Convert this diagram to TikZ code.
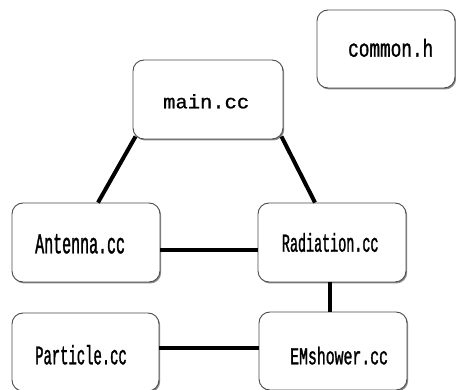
\documentclass[tikz,border=0pt]{standalone}
\usepackage{fontspec}
\usetikzlibrary{shadows}
\newfontfamily\fnarrow[FakeStretch=0.52,FakeBold=1.2]{Liberation Mono}
\newfontfamily\fmid[FakeStretch=0.61,FakeBold=1.2]{Liberation Mono}
\newfontfamily\fwide[FakeStretch=1.05,FakeBold=1.0]{Liberation Mono}
\newfontfamily\fcommon[FakeStretch=0.72,FakeBold=1.2]{Liberation Mono}
\begin{document}
\begin{tikzpicture}[x=1pt,y=1pt,
  box/.style={draw=black!70, line width=0.9pt, fill=white, rounded corners=11pt,
    inner sep=0pt, drop shadow={shadow xshift=1.2pt, shadow yshift=-1.5pt, fill=black!45, opacity=1}},
  lbl/.style={inner sep=0pt, anchor=base west, text=black},
  link/.style={line width=4pt, black}]
\useasboundingbox (0,0) rectangle (456,390);
\clip (0,0) rectangle (456,390);
\fill[white] (0,0) rectangle (456,390);
% boxes
\node[box, minimum width=138pt, minimum height=78pt] (common) at (386,341) {};
\node[box, minimum width=150pt, minimum height=79pt] (main) at (208,290.5) {};
\node[box, minimum width=148pt, minimum height=79pt] (antenna) at (86,147.5) {};
\node[box, minimum width=148pt, minimum height=79pt] (radiation) at (332,147.5) {};
\node[box, minimum width=147pt, minimum height=78pt] (particle) at (85.5,38) {};
\node[box, minimum width=148pt, minimum height=78pt] (emshower) at (333,39) {};
% labels
\node[lbl, font=\fcommon\fontsize{24.6}{26}\selectfont] (commonT) at (348,333.3) {common.h};
\node[lbl, font=\fwide\fontsize{19.5}{22}\selectfont] (mainT) at (163,281.7) {main.cc};
\node[lbl, font=\fnarrow\fontsize{28.8}{30}\selectfont] (antennaT) at (35,136.7) {Antenna.cc};
\node[lbl, font=\fnarrow\fontsize{25.8}{28}\selectfont] (radiationT) at (281.7,138.3) {Radiation.cc};
\node[lbl, font=\fnarrow\fontsize{26.7}{28}\selectfont] (particleT) at (35,25.7) {Particle.cc};
\node[lbl, font=\fmid\fontsize{24.3}{26}\selectfont] (emshowerT) at (290,25.7) {EMshower.cc};
% links
\draw[link] ([shift={(3pt,3pt)}]main.south west) -- ([xshift=12pt]antenna.north);
\draw[link] ([shift={(-2pt,3pt)}]main.south east) -- ([xshift=-17pt]radiation.north);
\draw[link] ([yshift=-7.5pt]antenna.east) -- ([yshift=-7.5pt]radiation.west);
\draw[link] ([xshift=-2.3pt]radiation.south) -- ([xshift=-2.3pt]radiation.south |- emshower.north);
\draw[link] ([yshift=4pt]particle.east) -- ([yshift=4pt]particle.east -| emshower.west);
\end{tikzpicture}
\end{document}
